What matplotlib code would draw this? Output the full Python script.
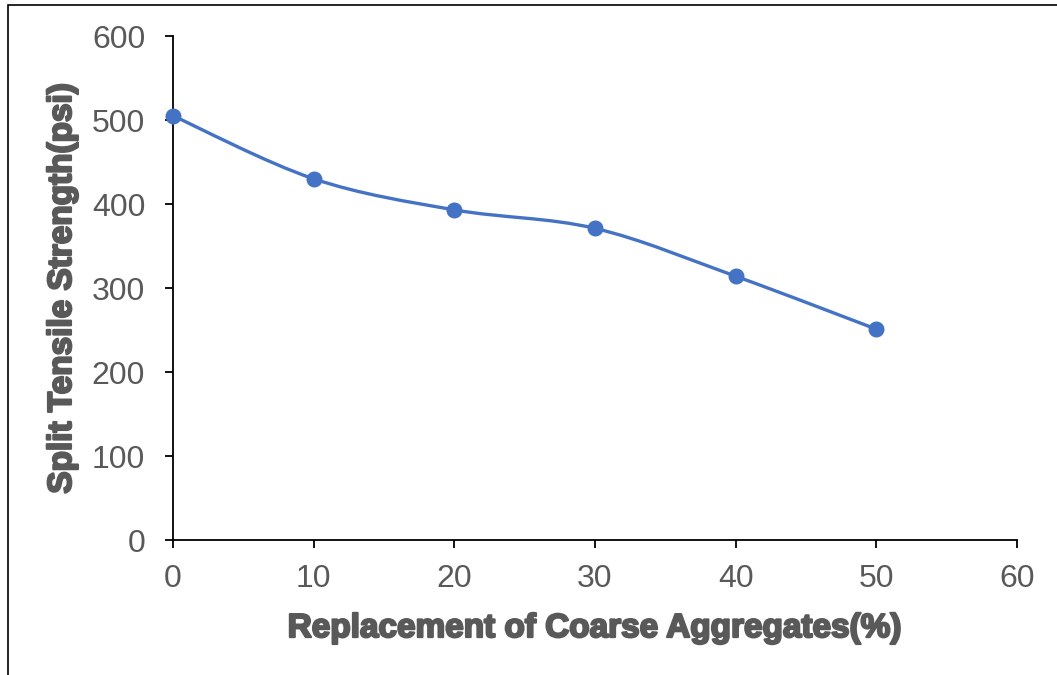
import matplotlib
matplotlib.use("Agg")
import matplotlib.pyplot as plt
from matplotlib.path import Path
from matplotlib.patches import PathPatch, Rectangle
import matplotlib.patheffects as pe
import numpy as np

plt.rcParams['font.family'] = ['Liberation Sans', 'DejaVu Sans']

replacement = [0, 10, 20, 30, 40, 50]
strength = [505, 430, 393, 371, 314, 251]
x_ticks = [0, 10, 20, 30, 40, 50, 60]
y_ticks = [0, 100, 200, 300, 400, 500, 600]

LINE = '#4472C4'
TEXT = '#595959'

fig = plt.figure(figsize=(10.57, 6.75), dpi=100)
ax = fig.add_axes([173 / 1057, 1 - 540 / 675, (1017 - 173) / 1057, (540 - 36) / 675])

# outer chart frame
fig.patches.append(Rectangle((8 / 1057, -0.05), 1.2, 1 - 5 / 675 + 0.05,
                             transform=fig.transFigure, fill=False,
                             edgecolor='black', linewidth=1.2))

# smoothed connecting curve (cubic Bezier, Catmull-Rom style control points)
pts = np.column_stack([replacement, strength]).astype(float)
n = len(pts)
verts = [tuple(pts[0])]
codes = [Path.MOVETO]
for i in range(n - 1):
    p_prev = pts[i - 1] if i > 0 else pts[i]
    p_next2 = pts[i + 2] if i + 2 < n else pts[i + 1]
    c1 = pts[i] + (pts[i + 1] - p_prev) / 6.0
    c2 = pts[i + 1] - (p_next2 - pts[i]) / 6.0
    verts += [tuple(c1), tuple(c2), tuple(pts[i + 1])]
    codes += [Path.CURVE4] * 3
ax.add_patch(PathPatch(Path(verts, codes), fill=False, edgecolor=LINE,
                       linewidth=2.4, capstyle='round', zorder=2))
ax.plot(replacement, strength, linestyle='none', marker='o', markersize=10.5,
        color=LINE, zorder=3, clip_on=False)

ax.set_xlim(0, 60)
ax.set_ylim(0, 600)
ax.set_xticks(x_ticks)
ax.set_yticks(y_ticks)
for s in ['top', 'right']:
    ax.spines[s].set_visible(False)
for s in ['left', 'bottom']:
    ax.spines[s].set_linewidth(1.3)
    ax.spines[s].set_color('black')
ax.tick_params(direction='out', length=6, width=1.3, colors='black',
               labelcolor=TEXT, labelsize=23)
ax.tick_params(axis='y', pad=14)
ax.tick_params(axis='x', pad=11)

heavy = [pe.withStroke(linewidth=1.6, foreground=TEXT)]
ax.set_xlabel('Replacement of Coarse Aggregates(%)', fontsize=24,
              fontweight='bold', color=TEXT, labelpad=14, path_effects=heavy)
ax.set_ylabel('Split Tensile Strength(psi)', fontsize=24,
              fontweight='bold', color=TEXT, labelpad=10, path_effects=heavy)

fig.savefig('out.png', dpi=100)
